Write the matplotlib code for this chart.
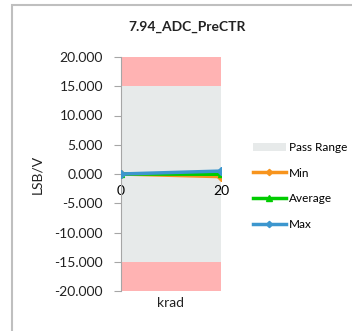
import matplotlib
matplotlib.use("Agg")
import matplotlib.pyplot as plt
from matplotlib.patches import Rectangle

plt.rcParams['font.family'] = ['Lato', 'DejaVu Sans']

# data
krad = [0, 20]
v_min = [0.0, -0.45]
v_avg = [0.0, -0.05]
v_max = [0.0, 0.5]
pass_lo, pass_hi = -15, 15
y_lo, y_hi = -20, 20
yticks = [20, 15, 10, 5, 0, -5, -10, -15, -20]

fig = plt.figure(figsize=(3.52, 3.31), dpi=100)

# outer chart border (Excel style)
fig.patches.append(Rectangle((11.5 / 352, -0.1), 1.0, 1 - 4.5 / 331 + 0.1,
                             transform=fig.transFigure, fill=False,
                             edgecolor='#BFBFBF', linewidth=1.5))

ax = fig.add_axes([121 / 352, 1 - 291 / 331, 100 / 352, 234 / 331])

# bands
ax.axhspan(pass_hi, y_hi, color='#FFB3B3', lw=0, zorder=0)
ax.axhspan(y_lo, pass_lo, color='#FFB3B3', lw=0, zorder=0)
ax.axhspan(pass_lo, pass_hi, color='#E7EAEA', lw=0, zorder=0, label='Pass Range')

ax.plot(krad, v_min, color='#F7941D', lw=2.5, marker='D', ms=4, label='Min', zorder=3)
ax.plot(krad, v_avg, color='#00CC00', lw=2.5, marker='^', ms=5, label='Average', zorder=4)
ax.plot(krad, v_max, color='#3C96CE', lw=2.5, marker='D', ms=4, label='Max', zorder=5)

ax.set_xlim(0, 20)
ax.set_ylim(y_lo, y_hi)
ax.set_yticks(yticks)
ax.set_yticklabels(['%.3f' % v for v in yticks], fontsize=10, color='#222222')
ax.set_xticks(krad)
ax.set_xticklabels([str(k) for k in krad], fontsize=9.5, color='#222222')

for s in ['top', 'right']:
    ax.spines[s].set_visible(False)
ax.spines['left'].set_color('#A6A6A6')
ax.spines['bottom'].set_position(('data', 0))
ax.spines['bottom'].set_visible(False)
ax.tick_params(axis='y', length=5, color='#A6A6A6', pad=8)
ax.tick_params(axis='x', length=0, pad=8)

ax.set_ylabel('LSB/V', fontsize=10, labelpad=8, color='#222222')
fig.text(171 / 352, 1 - 303 / 331, 'krad', fontsize=10, ha='center', va='center',
         color='#222222')
fig.text(187 / 352, 1 - 27 / 331, '7.94_ADC_PreCTR', fontsize=10, fontweight='bold',
         ha='center', va='center', color='#222222')

ax.legend(loc='center left', bbox_to_anchor=(248 / 352, 1 - 186 / 331),
          bbox_transform=fig.transFigure, frameon=False, fontsize=8.5,
          handlelength=2.8, handletextpad=0.25, labelspacing=1.25,
          borderaxespad=0, markerscale=0.8)

fig.savefig('out.png', dpi=100)
